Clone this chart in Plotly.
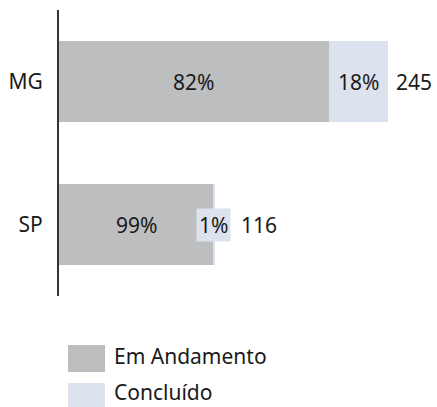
import plotly.graph_objects as go

# ── Data ──────────────────────────────────────────────
states     = ["MG", "SP"]
totals     = [245, 116]
pct_andam  = [82, 99]
pct_concl  = [18, 1]

GRAY  = "#BDBEC0"
LIGHT = "#DDE3EE"
INK   = "#1A1A1A"
FONT  = "Noto Sans"
FS    = 21

andam = [t * p / 100 for t, p in zip(totals, pct_andam)]
concl = [t * p / 100 for t, p in zip(totals, pct_concl)]

fig = go.Figure()
fig.add_trace(go.Bar(
    y=states, x=andam, orientation="h", name="Em Andamento",
    marker=dict(color=GRAY, line=dict(width=0)), showlegend=False,
))
fig.add_trace(go.Bar(
    y=states, x=concl, orientation="h", name="Concluído",
    marker=dict(color=LIGHT, line=dict(width=0)), showlegend=False,
))

# segment labels + totals
for s, a, c, t, pa, pc in zip(states, andam, concl, totals, pct_andam, pct_concl):
    fig.add_annotation(x=a / 2, y=s, text=f"{pa}%", showarrow=False,
                       font=dict(size=FS, color=INK, family=FONT))
    small = c / t < 0.05
    fig.add_annotation(x=a + c / 2, y=s, text=f"{pc}%", showarrow=False,
                       bgcolor=LIGHT if small else None, borderpad=2,
                       font=dict(size=FS, color=INK, family=FONT))
    # total sits just right of whatever ends further out
    fig.add_annotation(x=t, y=s, text=str(t), showarrow=False,
                       xanchor="left", xshift=24 if small else 6,
                       font=dict(size=FS, color=INK, family=FONT))

# hand-drawn legend (big swatches); offsets in px below plot bottom
legend_items = [("Em Andamento", GRAY), ("Concluído", LIGHT)]
for i, (name, col) in enumerate(legend_items):
    y0 = 49 + i * 38
    fig.add_shape(type="rect", xref="paper", yref="paper",
                  x0=(68 - 59) / 378, x1=(105 - 59) / 378,
                  y0=-(y0 + 27) / 286, y1=-y0 / 286,
                  fillcolor=col, line=dict(width=0))
    fig.add_annotation(xref="paper", yref="paper", x=(112 - 59) / 378,
                       y=-(y0 + 11 - i * 2) / 286, text=name, showarrow=False,
                       xanchor="left", yanchor="middle",
                       font=dict(size=FS, color=INK, family=FONT))

fig.update_layout(
    width=437, height=407,
    margin=dict(l=59, r=0, t=10, b=111),
    paper_bgcolor="white", plot_bgcolor="white",
    barmode="stack", bargap=0.44,
    font=dict(family=FONT, size=FS, color=INK),
    xaxis=dict(range=[0, 281.5], visible=False, fixedrange=True),
    yaxis=dict(categoryorder="array", categoryarray=["SP", "MG"],
               range=[-0.5, 1.5], showline=True, linecolor="#333333",
               linewidth=2, ticks="", ticklabelstandoff=10,
               showgrid=False, zeroline=False,
               tickfont=dict(size=FS, color=INK, family=FONT)),
    showlegend=False,
)

# drop the default 8px body margin so the figure fills the window exactly
fig.write_html("out.html", config={"displayModeBar": False},
               post_script="document.body.style.margin='0';document.body.style.overflow='hidden';")
